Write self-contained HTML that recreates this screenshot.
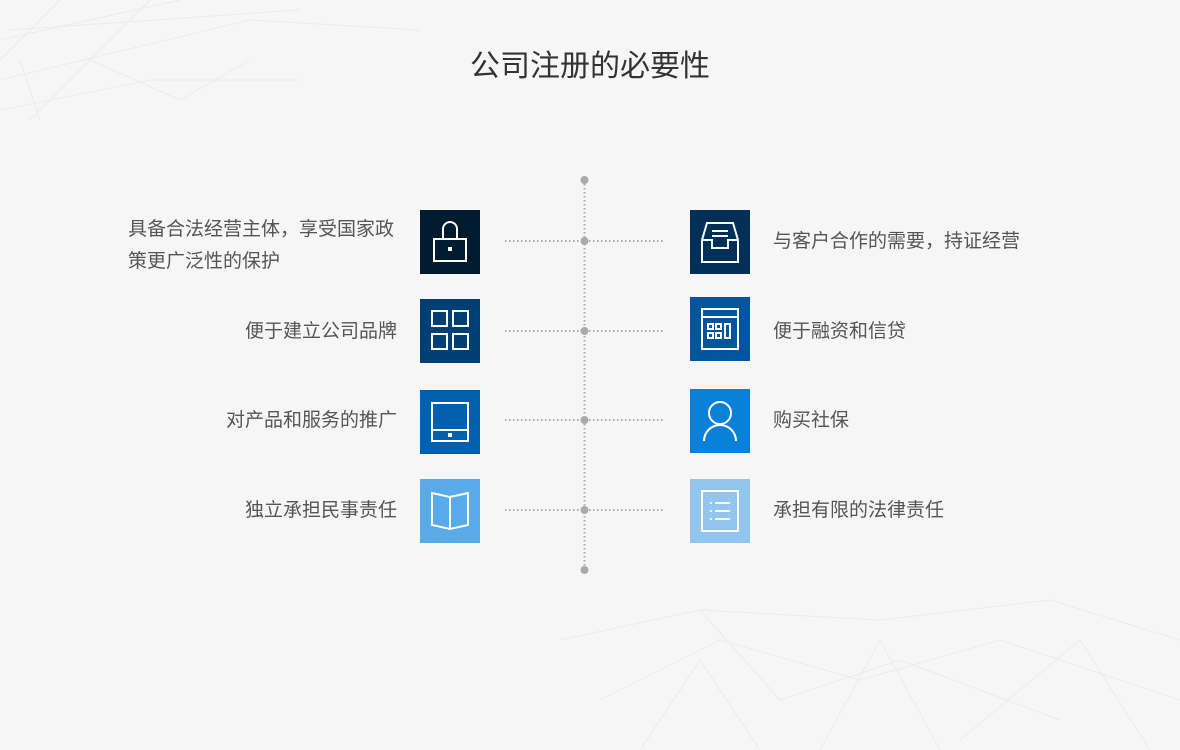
<!DOCTYPE html>
<html><head><meta charset="utf-8"><style>
body{margin:0;width:1180px;height:750px;background:#f6f6f6;position:relative;overflow:hidden;font-family:"Liberation Sans","Noto Sans CJK SC",sans-serif;}
.t{position:absolute;font-size:19px;color:#555;line-height:32px;white-space:nowrap}
.l{text-align:right;right:783px}
.r{left:773px}
.b{position:absolute;width:60px;height:64px}
.b svg{width:60px;height:64px}
</style></head><body>
<svg style="position:absolute;left:0;top:0" width="1180" height="750">
<g stroke="#ebebeb" stroke-width="1" fill="none">
<path d="M0 40 L180 0 M0 80 L250 20 L420 30 M10 30 L300 10 M30 120 L90 60 L180 100 L250 60 M0 110 L150 80 L300 80 M60 0 L0 60 M150 0 L90 60 M40 120 L20 60"/>
<path d="M560 640 L700 610 L880 620 L1050 600 L1180 640 M600 700 L720 640 L860 680 L1000 640 L1180 700 M640 750 L700 660 L760 750 M820 750 L880 640 L940 750 M960 740 L1080 640 L1150 750 M700 610 L780 700 L900 660 L1060 720"/>
</g>
<g stroke="#aaa" stroke-width="2" stroke-dasharray="1.5 2.5">
<line x1="584.5" y1="180" x2="584.5" y2="570"/>
<line x1="505" y1="241" x2="663" y2="241"/>
<line x1="505" y1="331" x2="663" y2="331"/>
<line x1="505" y1="420" x2="663" y2="420"/>
<line x1="505" y1="510" x2="663" y2="510"/>
</g>
<g fill="#aaa"><circle cx="584.5" cy="180" r="4"/><circle cx="584.5" cy="241" r="4"/><circle cx="584.5" cy="331" r="4"/><circle cx="584.5" cy="420" r="4"/><circle cx="584.5" cy="510" r="4"/><circle cx="584.5" cy="570" r="4"/></g>
</svg>
<div style="position:absolute;left:0;width:1180px;top:46px;text-align:center;font-size:30px;color:#333;line-height:42px">公司注册的必要性</div>

<div class="t l" style="top:214px;right:auto;left:128px;text-align:left">具备合法经营主体，享受国家政<br>策更广泛性的保护</div>
<div class="t l" style="top:316px">便于建立公司品牌</div>
<div class="t l" style="top:405px">对产品和服务的推广</div>
<div class="t l" style="top:495px">独立承担民事责任</div>
<div class="t r" style="top:226px">与客户合作的需要，持证经营</div>
<div class="t r" style="top:316px">便于融资和信贷</div>
<div class="t r" style="top:405px">购买社保</div>
<div class="t r" style="top:495px">承担有限的法律责任</div>

<div class="b" style="left:420px;top:210px;background:#001a30"><svg viewBox="0 0 60 64" fill="none" stroke="#fff" stroke-width="2"><path d="M23 29V19a7 7 0 0 1 14 0v10"/><rect x="14" y="29" width="32" height="22"/><rect x="28" y="37" width="4" height="4" fill="#fff" stroke="none"/></svg></div>
<div class="b" style="left:420px;top:299px;background:#003f73"><svg viewBox="0 0 60 64" fill="none" stroke="#fff" stroke-width="2"><rect x="12" y="12" width="15" height="15"/><rect x="33" y="12" width="15" height="15"/><rect x="12" y="35" width="15" height="15"/><rect x="33" y="35" width="15" height="15"/></svg></div>
<div class="b" style="left:420px;top:390px;background:#0060b0"><svg viewBox="0 0 60 64" fill="none" stroke="#fff" stroke-width="2"><rect x="12" y="13" width="36" height="38"/><line x1="12" y1="40" x2="48" y2="40"/><rect x="28" y="43" width="4" height="4" fill="#fff" stroke="none"/></svg></div>
<div class="b" style="left:420px;top:479px;background:#58aae8"><svg viewBox="0 0 60 64" fill="none" stroke="#fff" stroke-width="2"><path d="M30 50V18L12 14v32l18 4 18-4V14l-18 4"/></svg></div>

<div class="b" style="left:690px;top:210px;background:#003058"><svg viewBox="0 0 60 64" fill="none" stroke="#fff" stroke-width="2"><path d="M12 52V30l5-17h26l5 17v22z"/><path d="M12 30h10v8h16v-8h10"/><line x1="22" y1="21" x2="38" y2="21"/><line x1="22" y1="26" x2="38" y2="26"/></svg></div>
<div class="b" style="left:690px;top:297px;background:#00559e"><svg viewBox="0 0 60 64" fill="none" stroke="#fff" stroke-width="2"><rect x="12" y="12" width="36" height="40"/><line x1="12" y1="20" x2="48" y2="20"/><rect x="18" y="27" width="5" height="5"/><rect x="26" y="27" width="5" height="5"/><rect x="18" y="36" width="5" height="5"/><rect x="26" y="36" width="5" height="5"/><rect x="35" y="27" width="5" height="14"/></svg></div>
<div class="b" style="left:690px;top:389px;background:#0b80d8"><svg viewBox="0 0 60 64" fill="none" stroke="#fff" stroke-width="2"><circle cx="30" cy="24" r="11"/><path d="M14 52a16 16 0 0 1 32 0"/></svg></div>
<div class="b" style="left:690px;top:479px;background:#92c5ee"><svg viewBox="0 0 60 64" fill="none" stroke="#fff" stroke-width="2"><rect x="12" y="12" width="36" height="40"/><line x1="25" y1="24" x2="40" y2="24"/><line x1="25" y1="32" x2="40" y2="32"/><line x1="25" y1="40" x2="40" y2="40"/><line x1="20" y1="24" x2="22" y2="24"/><line x1="20" y1="32" x2="22" y2="32"/><line x1="20" y1="40" x2="22" y2="40"/></svg></div>
</body></html>
